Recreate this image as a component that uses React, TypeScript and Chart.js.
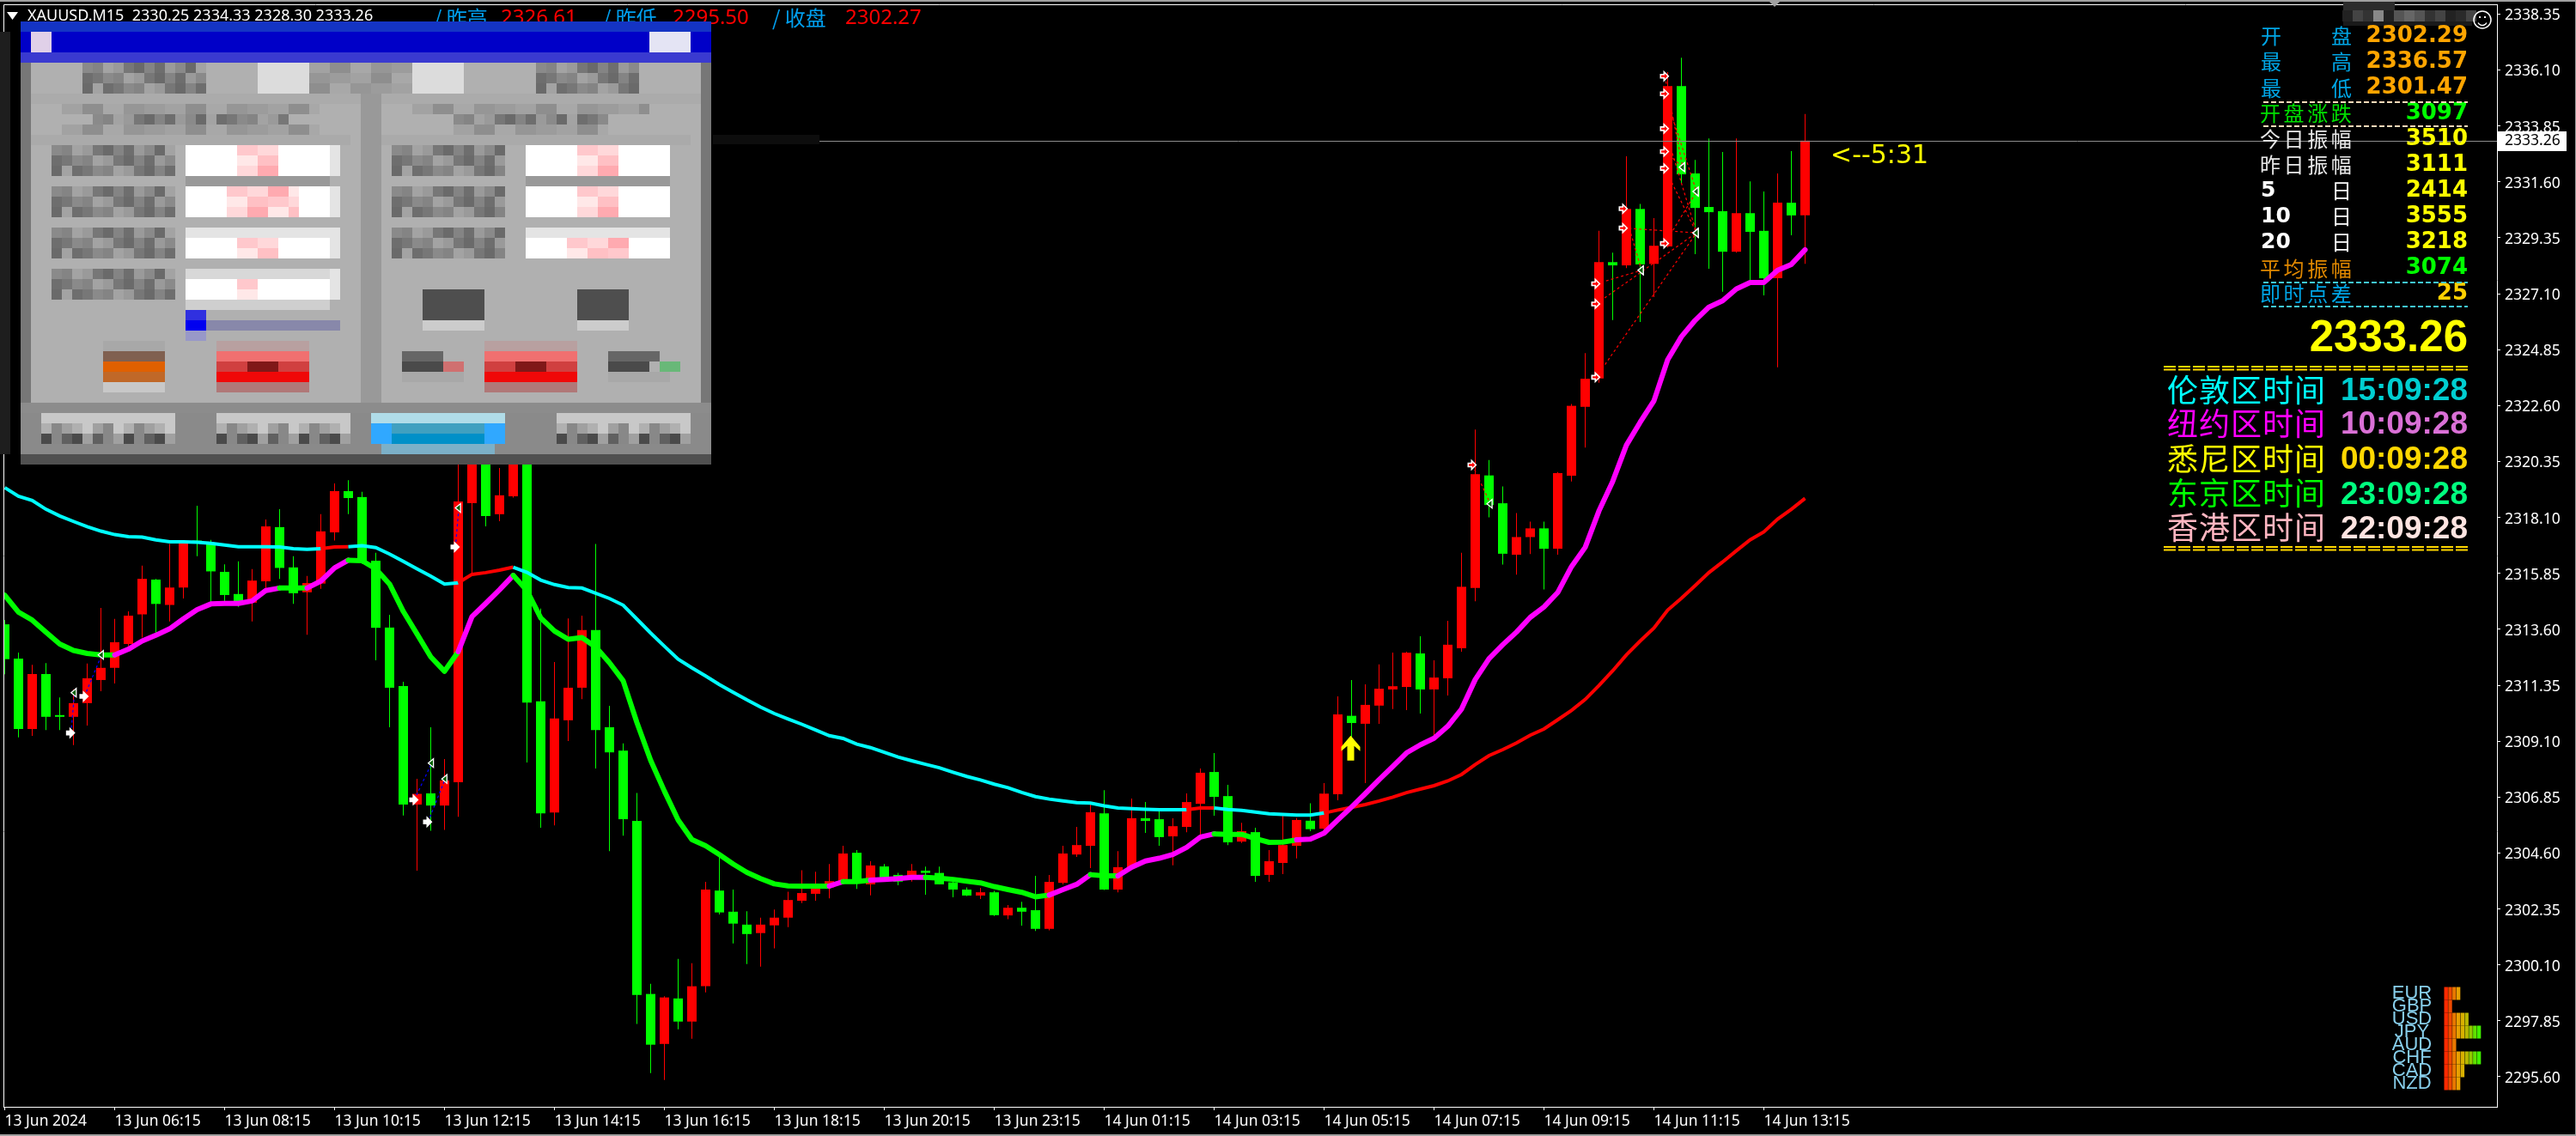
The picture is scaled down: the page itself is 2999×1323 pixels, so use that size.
import React, { useEffect, useRef } from "react";
import { Chart, registerables } from "chart.js";

Chart.register(...registerables);

const opens = [2313.80,2312.42,2309.59,2311.80,2310.11,2310.08,2310.63,2311.56,2312.05,2313.01,
2314.20,2315.60,2314.58,2315.28,2317.17,2317.03,2315.91,2315.02,2314.67,2315.53,
2317.71,2316.09,2315.09,2315.44,2317.50,2319.16,2318.92,2316.36,2313.67,2311.32,
2306.55,2307.00,2306.51,2307.45,2318.67,2322.50,2318.23,2318.95,2321.20,2310.70,
2306.23,2309.94,2311.25,2313.57,2309.66,2308.72,2305.89,2298.93,2296.92,2298.75,
2297.82,2299.24,2303.09,2302.24,2301.72,2301.38,2301.69,2302.00,2302.68,2302.96,
2303.22,2303.45,2304.61,2303.34,2304.06,2303.72,2303.68,2303.89,2303.80,2303.42,
2303.13,2302.89,2303.02,2302.09,2302.40,2302.30,2301.55,2303.40,2304.54,2304.89,
2306.20,2303.13,2304.03,2306.00,2305.96,2305.27,2305.65,2306.58,2307.86,2306.89,
2305.06,2305.44,2303.72,2304.20,2304.89,2305.90,2305.58,2306.96,2310.12,2309.80,
2310.53,2311.18,2311.28,2312.63,2311.18,2311.63,2312.84,2315.26,2319.79,2318.67,
2316.60,2317.31,2317.66,2316.84,2319.78,2322.55,2323.69,2328.37,2328.24,2330.51,
2328.30,2329.00,2335.45,2331.94,2330.59,2330.42,2328.79,2330.34,2329.63,2327.72,
2330.76,2330.25];
const highs = [2313.97,2312.66,2312.17,2312.24,2310.86,2311.18,2312.22,2314.46,2314.02,2314.32,
2316.16,2315.63,2317.03,2317.15,2318.57,2317.20,2316.21,2316.33,2316.02,2318.02,
2318.43,2316.54,2315.75,2318.23,2319.47,2319.60,2319.13,2316.68,2314.18,2311.49,
2307.59,2309.66,2308.38,2320.23,2323.40,2323.60,2320.09,2321.80,2321.80,2314.43,
2312.28,2314.04,2314.15,2317.03,2310.52,2309.01,2307.02,2299.34,2298.84,2300.34,
2300.17,2303.44,2304.49,2303.13,2302.26,2302.00,2302.33,2303.04,2303.91,2303.85,
2304.16,2304.89,2304.72,2304.27,2304.16,2303.80,2304.16,2304.05,2304.05,2303.59,
2303.22,2303.20,2303.08,2302.51,2302.64,2303.68,2303.72,2304.89,2305.65,2306.56,
2307.13,2304.68,2306.79,2306.65,2306.31,2306.00,2307.00,2308.00,2308.62,2307.34,
2305.82,2305.62,2304.72,2306.10,2306.01,2306.60,2307.41,2310.90,2311.56,2311.39,
2312.19,2312.66,2312.70,2313.32,2312.35,2313.94,2316.68,2321.64,2320.41,2319.35,
2318.28,2317.93,2317.93,2319.93,2322.66,2324.71,2329.63,2328.75,2332.63,2330.71,
2330.14,2336.01,2336.59,2332.48,2333.35,2332.80,2333.35,2331.62,2331.21,2331.94,
2332.84,2334.33];
const lows = [2311.79,2309.25,2309.31,2309.55,2309.55,2308.94,2309.73,2311.11,2311.42,2312.92,
2313.27,2313.45,2313.92,2314.84,2316.54,2314.67,2314.58,2314.50,2313.92,2315.19,
2315.63,2314.62,2313.38,2315.23,2317.17,2318.23,2316.24,2312.35,2309.66,2306.11,
2303.89,2305.50,2305.53,2306.06,2315.86,2317.74,2317.95,2318.90,2308.24,2305.62,
2305.71,2309.11,2310.79,2308.00,2304.68,2305.30,2297.72,2295.75,2295.47,2297.51,
2297.13,2298.99,2302.13,2300.96,2300.13,2300.03,2300.76,2301.62,2302.59,2302.68,
2302.78,2303.34,2303.16,2302.90,2303.54,2303.30,2303.45,2302.92,2303.34,2302.82,
2302.87,2302.75,2302.07,2301.94,2301.68,2301.46,2301.49,2303.34,2304.44,2303.99,
2303.11,2303.02,2303.96,2305.41,2304.89,2304.11,2305.44,2305.24,2306.10,2304.92,
2305.00,2303.44,2303.44,2303.75,2304.38,2305.48,2305.53,2306.72,2309.27,2307.41,
2309.80,2310.39,2310.35,2310.21,2309.35,2310.94,2312.70,2314.73,2318.10,2316.20,
2315.80,2316.63,2315.20,2316.60,2319.55,2320.91,2323.52,2326.04,2328.13,2325.96,
2326.96,2328.96,2331.52,2328.69,2328.10,2327.18,2328.75,2327.62,2327.03,2324.14,
2329.45,2328.30];
const closes = [2312.40,2309.59,2311.80,2310.08,2310.08,2310.63,2311.63,2312.05,2313.08,2314.15,
2315.63,2314.62,2315.28,2317.12,2317.06,2315.93,2314.98,2314.67,2315.56,2317.74,
2316.07,2315.05,2315.46,2317.54,2319.16,2318.88,2316.33,2313.66,2311.25,2306.55,
2306.98,2306.51,2307.52,2318.74,2322.30,2318.16,2318.99,2321.00,2310.65,2306.20,
2310.01,2311.25,2313.57,2309.55,2308.65,2305.96,2298.89,2296.89,2298.79,2297.82,
2299.24,2303.13,2302.21,2301.76,2301.34,2301.72,2302.00,2302.71,2302.99,2303.16,
2303.47,2304.58,2303.45,2304.10,2303.62,2303.45,2303.89,2303.80,2303.34,2303.13,
2302.89,2303.02,2302.10,2302.40,2302.24,2301.55,2303.44,2304.58,2304.92,2306.24,
2303.13,2304.03,2306.00,2305.89,2305.24,2305.68,2306.65,2307.83,2306.86,2305.03,
2305.48,2303.68,2304.27,2304.92,2305.93,2305.56,2306.99,2310.18,2309.83,2310.56,
2311.21,2311.31,2312.66,2311.18,2311.66,2312.98,2315.31,2319.84,2318.60,2316.64,
2317.31,2317.66,2316.84,2319.88,2322.59,2323.68,2328.37,2328.24,2330.51,2328.28,
2329.03,2335.45,2331.90,2330.55,2330.38,2328.79,2330.34,2329.59,2327.72,2330.76,
2330.25,2333.26];

const slowMA = [2319.30,2318.95,2318.78,2318.43,2318.16,2317.94,2317.73,2317.55,2317.41,2317.33,
2317.31,2317.20,2317.12,2317.12,2317.10,2317.06,2316.99,2316.92,2316.92,2316.92,
2316.91,2316.84,2316.82,2316.84,2316.91,2316.92,2316.96,2316.89,2316.63,2316.33,
2316.03,2315.74,2315.42,2315.47,2315.81,2315.88,2315.98,2316.10,2315.89,2315.58,
2315.40,2315.28,2315.26,2315.05,2314.84,2314.57,2314.01,2313.45,2312.92,2312.40,
2312.05,2311.72,2311.38,2311.07,2310.76,2310.47,2310.21,2309.99,2309.78,2309.55,
2309.32,2309.21,2308.98,2308.84,2308.65,2308.46,2308.31,2308.17,2308.03,2307.85,
2307.68,2307.54,2307.37,2307.23,2307.04,2306.87,2306.77,2306.70,2306.63,2306.61,
2306.50,2306.41,2306.39,2306.36,2306.34,2306.34,2306.34,2306.41,2306.41,2306.35,
2306.32,2306.25,2306.18,2306.15,2306.13,2306.13,2306.21,2306.33,2306.44,2306.55,
2306.69,2306.85,2307.03,2307.17,2307.31,2307.50,2307.76,2308.16,2308.52,2308.76,
2309.03,2309.34,2309.59,2309.96,2310.34,2310.78,2311.34,2311.93,2312.57,2313.13,
2313.65,2314.37,2314.85,2315.36,2315.88,2316.31,2316.76,2317.20,2317.52,2318.03,
2318.43,2318.87];
const fastMA = [2314.97,2314.29,2313.97,2313.48,2313.01,2312.75,2312.63,2312.57,2312.57,2312.80,
2313.13,2313.36,2313.62,2314.02,2314.39,2314.62,2314.64,2314.64,2314.74,2315.16,
2315.26,2315.26,2315.26,2315.54,2316.07,2316.38,2316.36,2316.03,2315.42,2314.32,
2313.41,2312.49,2311.91,2312.70,2314.11,2314.64,2315.19,2315.77,2315.16,2314.06,
2313.53,2313.20,2313.27,2312.89,2312.26,2311.53,2309.85,2308.33,2307.09,2305.93,
2305.14,2304.89,2304.54,2304.16,2303.82,2303.57,2303.36,2303.28,2303.27,2303.27,
2303.27,2303.45,2303.45,2303.51,2303.54,2303.57,2303.62,2303.62,2303.59,2303.54,
2303.47,2303.40,2303.25,2303.13,2303.02,2302.84,2302.91,2303.13,2303.34,2303.73,
2303.68,2303.68,2304.03,2304.28,2304.39,2304.54,2304.83,2305.24,2305.37,2305.35,
2305.35,2305.18,2305.03,2305.04,2305.13,2305.16,2305.40,2305.93,2306.45,2306.99,
2307.55,2308.08,2308.63,2308.95,2309.22,2309.70,2310.39,2311.58,2312.42,2312.98,
2313.49,2314.08,2314.50,2315.08,2316.12,2316.90,2318.36,2319.55,2321.01,2321.93,
2322.79,2324.44,2325.37,2326.03,2326.56,2326.82,2327.29,2327.55,2327.55,2328.04,
2328.28,2328.87];

const slowRedRuns = [[23, 25], [33, 37], [86, 88], [96, 131]];
const fastMagentaRuns = [[8, 20], [22, 25], [33, 37], [60, 61], [63, 67], [76, 79], [81, 88], [94, 131]];

const priceTicks = [2295.60,2297.85,2300.10,2302.35,2304.60,2306.85,2309.10,2311.35,2313.60,2315.85,
2318.10,2320.35,2322.60,2324.85,2327.10,2329.35,2331.60,2333.85,2336.10,2338.35];
const timeLabels = ["13 Jun 2024","13 Jun 06:15","13 Jun 08:15","13 Jun 10:15","13 Jun 12:15","13 Jun 14:15","13 Jun 16:15","13 Jun 18:15","13 Jun 20:15","13 Jun 23:15","14 Jun 01:15","14 Jun 03:15","14 Jun 05:15","14 Jun 07:15","14 Jun 09:15","14 Jun 11:15","14 Jun 13:15"];

// trades: [entry bar, entry price, exit bar, exit price]
const blueTrades = [[4.82,2309.43,5.08,2311.05],[5.8,2310.9,7.05,2312.57],[29.8,2306.74,31.07,2308.22],[30.8,2305.85,32.05,2307.58],[32.8,2316.91,33.04,2318.48]];
const redTrades = [[106.8,2320.21,108.1,2318.65],[115.8,2327.5,119.1,2328.04],[115.8,2326.69,123.1,2329.55],[115.8,2323.74,123.1,2329.55],[117.8,2330.52,119.1,2328.04],[117.8,2329.74,123.1,2329.55],[120.8,2335.85,122.1,2332.19],[120.8,2335.14,123.1,2331.21],[120.8,2333.74,123.1,2329.55],[120.8,2332.82,122.1,2332.19],[120.8,2332.14,123.1,2329.55],[120.8,2329.12,123.1,2331.21]];

const signalBar = 98;
const signalPrice = 2308.8;
const lastPrice = 2333.26;

const RED = "#FF0000";
const GREEN = "#00FF00";

const statRows = [
  ["开", "盘", "2302.29", "#00A5E5", "#FFA500"],
  ["最", "高", "2336.57", "#00A5E5", "#FFA500"],
  ["最", "低", "2301.47", "#00A5E5", "#FFA500"],
  ["开盘涨跌", "", "3097", "#00E000", "#00FF00"],
  ["今日振幅", "", "3510", "#E8E8E8", "#FFFF00"],
  ["昨日振幅", "", "3111", "#E8E8E8", "#FFFF00"],
  ["5", "日", "2414", "#FFFFFF", "#FFFF00"],
  ["10", "日", "3555", "#FFFFFF", "#FFFF00"],
  ["20", "日", "3218", "#FFFFFF", "#FFFF00"],
  ["平均振幅", "", "3074", "#E08800", "#00FF00"],
  ["即时点差", "", "25", "#00A5E5", "#FFD000"],
];
const zoneRows = [
  ["伦敦区时间", "15:09:28", "#00FFFF", "#00CED1"],
  ["纽约区时间", "10:09:28", "#FF00FF", "#DA70D6"],
  ["悉尼区时间", "00:09:28", "#FFFF00", "#FFD700"],
  ["东京区时间", "23:09:28", "#00FF00", "#00FF7F"],
  ["香港区时间", "22:09:28", "#FFB6C1", "#FFE4E1"],
];
const currencies = ["EUR", "GBP", "USD", "JPY", "AUD", "CHF", "CAD", "NZD"];
const strengths = [4, 2, 6, 9, 3, 9, 5, 4];
const strengthColors = ["#FF2A00", "#EE4A00", "#E87800", "#E8A000", "#D8B000", "#B8B800", "#90C800", "#60E000", "#40F000"];

const inRuns = (runs: number[][], i: number) => runs.some(([a, b]) => i >= a && i < b);
const CJK = '"Noto Sans CJK SC"';
const UI = '"Noto Sans"';

function drawPanel(ctx: CanvasRenderingContext2D) {
  const ox = 24, oy = 25, s = 12;
  const g = (c: number, r: number, w: number, h: number, col: string) => {
    ctx.fillStyle = col;
    ctx.fillRect(ox + c * s, oy + r * s, w * s, h * s);
  };
  const blob = (c: number, r: number, w: number, h: number, tones: string[]) => {
    for (let y = 0; y < h; y++)
      for (let x = 0; x < w; x++) g(c + x, r + y, 1, 1, tones[(x * 5 + y * 3 + (x >> 1)) % tones.length]);
  };
  const grayA = ["#8A8A8A", "#777777", "#9A9A9A", "#6E6E6E", "#A3A3A3", "#848484", "#6A6A6A"];
  const grayB = ["#A2A2A2", "#8E8E8E", "#A8A8A8", "#969696", "#9C9C9C"];
  const pink = ["#FFC8CC", "#FFD8DA", "#FFAAB0", "#FFE8E8", "#FFC0C4"];

  g(-2, 1, 1, 41, "#1E1E1E");
  ctx.fillStyle = "#0D0D0D";
  ctx.fillRect(830, 157, 124, 11);

  g(0, 0, 67, 1, "#1434C4");
  g(0, 1, 67, 2, "#0000C8");
  g(0, 3, 67, 1, "#3A3AD0");
  g(1, 1, 2, 2, "#E0D0E8");
  g(61, 1, 4, 2, "#E4E4F4");
  g(0, 4, 67, 38, "#B0B0B0");
  g(0, 4, 1, 38, "#777777");
  g(66, 4, 1, 38, "#777777");
  g(1, 7, 65, 1, "#ABABAB");
  g(33, 7, 2, 30, "#999999");
  g(1, 11, 31, 1, "#AAAAAA");
  g(35, 11, 30, 1, "#AAAAAA");

  blob(6, 4, 12, 3, grayA);
  g(23, 4, 5, 3, "#DCDCDC");
  blob(28, 4, 10, 3, grayB);
  g(38, 4, 5, 3, "#DCDCDC");
  blob(50, 4, 10, 3, grayA);
  blob(4, 8, 25, 1, grayB);
  blob(7, 9, 19, 1, grayA);
  blob(4, 10, 25, 1, grayB);
  blob(38, 8, 23, 1, grayB);
  blob(42, 9, 15, 1, grayA);
  blob(42, 10, 15, 1, grayB);

  const rowsY = [12, 16, 20, 24];
  rowsY.forEach((r, k) => {
    blob(3, r, 12, 3, grayA);
    g(16, r, 14, 3, "#FFFFFF");
    g(30, r, 1, 3, "#E4E4E4");
    if (k >= 2) g(16, r, 14, 1, k === 2 ? "#E4E4E4" : "#D8D8D8");
    blob(20 + (k === 1 ? 0 : 1), k >= 2 ? r + 1 : r, k === 1 ? 7 : k === 3 ? 2 : 4, k >= 2 ? 2 : 3, pink);
    if (k < 3) {
      blob(36, r, 11, 3, grayA);
      g(49, r, 14, 3, "#FFFFFF");
      if (k === 2) g(49, r, 14, 1, "#E4E4E4");
      blob(k === 2 ? 53 : 54, k === 2 ? r + 1 : r, k === 2 ? 6 : 4, k === 2 ? 2 : 3, pink);
    }
  });
  g(16, 15, 14, 1, "#999999");
  g(49, 15, 14, 1, "#999999");
  g(16, 27, 14, 1, "#CFCFCF");

  g(39, 26, 6, 3, "#4E4E4E");
  g(54, 26, 5, 3, "#4E4E4E");
  g(39, 29, 6, 1, "#CCCCCC");
  g(54, 29, 5, 1, "#CCCCCC");

  g(16, 28, 2, 1, "#3030E0");
  g(16, 29, 2, 1, "#0000F0");
  g(16, 30, 2, 1, "#9898C8");
  g(18, 29, 13, 1, "#8888AA");

  g(8, 31, 6, 1, "#A8A8A8");
  g(8, 32, 6, 1, "#806050");
  g(8, 33, 6, 1, "#E06000");
  g(8, 34, 6, 1, "#C06828");
  g(8, 35, 6, 1, "#C8C8C8");

  for (const c of [19, 45]) {
    g(c, 31, 9, 1, "#B8A0A0");
    g(c, 32, 9, 1, "#F07070");
    g(c, 33, 9, 1, "#D04040");
    g(c + 3, 33, 3, 1, "#801818");
    g(c, 34, 9, 1, "#F00808");
    g(c, 35, 9, 1, "#B07878");
  }
  g(37, 32, 4, 1, "#666666");
  g(37, 33, 4, 1, "#4A4A4A");
  g(41, 33, 2, 1, "#D07070");
  g(37, 34, 6, 1, "#A8A8A8");
  g(57, 32, 5, 1, "#666666");
  g(57, 33, 4, 1, "#4A4A4A");
  g(62, 33, 2, 1, "#68B878");
  g(57, 34, 6, 1, "#A8A8A8");

  g(0, 37, 67, 1, "#8C8C8C");
  g(0, 38, 67, 4, "#8A8A8A");
  for (const c of [2, 19, 52]) {
    g(c, 38, 13, 1, "#C8C8C8");
    blob(c, 39, 13, 1, ["#B0B0B0", "#888888", "#C8C8C8", "#A0A0A0"]);
    blob(c, 40, 13, 1, ["#4A4A4A", "#888888", "#A0A0A0", "#606060"]);
  }
  g(34, 38, 13, 1, "#B0DCE8");
  g(34, 39, 13, 1, "#40A0C0");
  g(34, 40, 13, 1, "#0090C8");
  g(35, 41, 11, 1, "#7CB0C8");
  g(34, 39, 2, 2, "#30A8FF");
  g(45, 39, 2, 2, "#30A8FF");
  g(0, 42, 67, 1, "#505050");
}

function drawArrow(ctx: CanvasRenderingContext2D, x: number, y: number, fill: string) {
  ctx.beginPath();
  ctx.moveTo(x - 5, y - 2);
  ctx.lineTo(x - 1, y - 2);
  ctx.lineTo(x - 1, y - 5);
  ctx.lineTo(x + 4, y);
  ctx.lineTo(x - 1, y + 5);
  ctx.lineTo(x - 1, y + 2);
  ctx.lineTo(x - 5, y + 2);
  ctx.closePath();
  ctx.fillStyle = fill;
  ctx.strokeStyle = "#FFFFFF";
  ctx.lineWidth = 1.6;
  ctx.fill();
  ctx.stroke();
}
function drawTri(ctx: CanvasRenderingContext2D, x: number, y: number) {
  ctx.beginPath();
  ctx.moveTo(x - 4, y);
  ctx.lineTo(x + 2, y - 5);
  ctx.lineTo(x + 2, y + 5);
  ctx.closePath();
  ctx.fillStyle = "#006000";
  ctx.strokeStyle = "#FFFFFF";
  ctx.lineWidth = 1.3;
  ctx.fill();
  ctx.stroke();
}

const marksPlugin = {
  id: "marks",
  afterDatasetsDraw(chart: any) {
    const ctx: CanvasRenderingContext2D = chart.ctx;
    const { x, y } = chart.scales;
    ctx.save();
    for (const [a, p, b, q] of blueTrades) {
      drawArrow(ctx, x.getPixelForValue(a), y.getPixelForValue(p), "#FFFFFF");
      drawTri(ctx, x.getPixelForValue(b), y.getPixelForValue(q));
    }
    for (const [a, p, b, q] of redTrades) {
      drawArrow(ctx, x.getPixelForValue(a), y.getPixelForValue(p), "#FF0000");
      drawTri(ctx, x.getPixelForValue(b), y.getPixelForValue(q));
    }
    // signal arrow
    const sx = x.getPixelForValue(signalBar) - 1;
    const sy = y.getPixelForValue(signalPrice);
    ctx.fillStyle = "#FFFF00";
    ctx.beginPath();
    ctx.moveTo(sx, sy - 15);
    ctx.lineTo(sx + 11, sy - 2);
    ctx.lineTo(sx + 11, sy + 3);
    ctx.lineTo(sx + 4, sy - 3);
    ctx.lineTo(sx + 4, sy + 14);
    ctx.lineTo(sx - 4, sy + 14);
    ctx.lineTo(sx - 4, sy - 3);
    ctx.lineTo(sx - 11, sy + 3);
    ctx.lineTo(sx - 11, sy - 2);
    ctx.closePath();
    ctx.fill();
    // current price line
    const ly = Math.round(y.getPixelForValue(lastPrice)) + 0.5;
    ctx.strokeStyle = "#8C8C8C";
    ctx.lineWidth = 1;
    ctx.beginPath();
    ctx.moveTo(953, ly);
    ctx.lineTo(x.right, ly);
    ctx.stroke();
    ctx.restore();
  },
  afterDraw(chart: any) {
    const ctx: CanvasRenderingContext2D = chart.ctx;
    const { y } = chart.scales;
    const text = (t: string, px: number, py: number, font: string, col: string, align: CanvasTextAlign = "left", spacing = "0px") => {
      ctx.font = font;
      ctx.fillStyle = col;
      ctx.textAlign = align;
      ctx.textBaseline = "middle";
      (ctx as any).letterSpacing = spacing;
      ctx.fillText(t, px, py);
      (ctx as any).letterSpacing = "0px";
    };
    ctx.save();
    // frame
    ctx.fillStyle = "#A0A0A0";
    ctx.fillRect(0, 0, 2999, 2);
    ctx.fillRect(2998, 0, 1, 1323);
    ctx.fillRect(0, 1321, 2999, 2);
    ctx.strokeStyle = "#FFFFFF";
    ctx.lineWidth = 1;
    ctx.beginPath();
    ctx.moveTo(4.5, 1289.5);
    ctx.lineTo(4.5, 5.5);
    ctx.lineTo(2907.5, 5.5);
    ctx.stroke();

    // header
    ctx.fillStyle = "#FFFFFF";
    ctx.beginPath();
    ctx.moveTo(8, 14);
    ctx.lineTo(21, 14);
    ctx.lineTo(14.5, 23);
    ctx.closePath();
    ctx.fill();
    text("XAUUSD.M15  2330.25 2334.33 2328.30 2333.26", 32, 19, `18px ${UI}`, "#FFFFFF");
    const head = [["/ 昨高", 505, "2326.61", 583], ["/ 昨低", 702, "2295.50", 783], ["/ 收盘", 899, "2302.27", 984]];
    for (const [lab, lx, val, vx] of head) {
      text(lab as string, lx as number, 21, `24px ${CJK}`, "#00A0F0");
      text(val as string, vx as number, 21, `24px ${UI}`, "#FF0000");
    }

    // countdown
    text("<--5:31", 2131, 182, `30px "DejaVu Sans"`, "#FFFF00");

    // blurred strip + smiley
    const tones = ["#222222", "#444444", "#333333", "#888888", "#222222", "#555555", "#666666", "#555555", "#333333", "#444444", "#222222", "#2A2A2A", "#444444"];
    ctx.fillStyle = "#2C2C2C";
    ctx.fillRect(2728, 2, 60, 10);
    ctx.fillStyle = "#1A1A1A";
    ctx.fillRect(2728, 12, 150, 18);
    tones.forEach((c, i) => {
      ctx.fillStyle = c;
      ctx.fillRect(2727 + i * 12, 12, 12, 13);
    });
    ctx.strokeStyle = "#FFFFFF";
    ctx.lineWidth = 1.5;
    ctx.beginPath();
    ctx.arc(2890, 23, 10, 0, Math.PI * 2);
    ctx.stroke();
    ctx.beginPath();
    ctx.arc(2890, 24, 5.5, 0.15 * Math.PI, 0.85 * Math.PI);
    ctx.stroke();
    ctx.fillStyle = "#FFFFFF";
    ctx.fillRect(2886, 19, 2, 2);
    ctx.fillRect(2892, 19, 2, 2);
    ctx.fillStyle = "#A0A0A0";
    ctx.beginPath();
    ctx.moveTo(2060, 2);
    ctx.lineTo(2072, 2);
    ctx.lineTo(2066, 8);
    ctx.closePath();
    ctx.fill();

    // stat table
    const rowY = [42, 72, 102.5, 132, 162, 192, 222, 252, 282, 312.5, 342];
    statRows.forEach((r, i) => {
      const [a, b, v, c1, c2] = r;
      const yy = rowY[i];
      if (b === "") {
        text(a, 2631, yy, `24px ${CJK}`, c1, "left", "3.6px");
      } else {
        const numeric = /\d/.test(a);
        text(a, 2632, yy, numeric ? `bold 25px "DejaVu Sans"` : `24px ${CJK}`, c1);
        text(b, 2714, yy, `24px ${CJK}`, c1);
      }
      text(v, 2873, yy, `bold 26px "DejaVu Sans"`, c2, "right");
    });
    const dashed = (x0: number, x1: number, yy: number, col: string, w: number, seg: number[]) => {
      ctx.strokeStyle = col;
      ctx.lineWidth = w;
      ctx.setLineDash(seg);
      ctx.beginPath();
      ctx.moveTo(x0, yy);
      ctx.lineTo(x1, yy);
      ctx.stroke();
      ctx.setLineDash([]);
    };
    dashed(2635, 2873, 119, "#FFDAB9", 2, [6, 3]);
    dashed(2635, 2873, 147, "#FFDAB9", 2, [6, 3]);
    dashed(2635, 2873, 329, "#40C8D8", 2, [6, 3]);
    dashed(2635, 2873, 357, "#40C8D8", 2, [6, 3]);

    text("2333.26", 2873, 395, `bold 51px "Liberation Sans"`, "#FFFF00", "right");

    for (const yy of [427, 430.5, 637, 640.5]) dashed(2519, 2873, yy, "#FFD700", 2, [14, 3]);
    const zoneY = [454, 493, 534, 574.5, 614.5];
    zoneRows.forEach((r, i) => {
      text(r[0], 2523, zoneY[i], `36px ${CJK}`, r[2], "left", "1px");
      text(r[1], 2873, zoneY[i] + 2, `bold 37px "Liberation Sans"`, r[3], "right");
    });

    // currency strength
    currencies.forEach((c, i) => {
      const yy = 1157 + i * 15;
      text(c, 2808, yy, `22px "Liberation Sans"`, "#87CEEB", "center");
      for (let k = 0; k < strengths[i]; k++) {
        ctx.fillStyle = strengthColors[k];
        ctx.fillRect(2845.5 + k * 4.8, yy - 7.5, 4.4, 15);
      }
    });

    // price tag
    const py = y.getPixelForValue(lastPrice);
    ctx.fillStyle = "#FFFFFF";
    ctx.fillRect(2908, Math.round(py) - 11, 80, 23);
    text(lastPrice.toFixed(2), 2916, py + 0.5, `17.5px ${UI}`, "#000000");

    drawPanel(ctx);
    ctx.restore();
  },
};

const noPad = (s: any) => {
  s.paddingTop = 0;
  s.paddingBottom = 0;
  s.paddingLeft = 0;
  s.paddingRight = 0;
};

export default function App() {
  const ref = useRef<HTMLCanvasElement>(null);
  useEffect(() => {
    const bars = opens.map((_, i) => i);
    const colors = bars.map((i) => (closes[i] >= opens[i] ? RED : GREEN));
    const tradeLine = (t: number[], col: string) => ({
      type: "line",
      data: [{ x: t[0], y: t[1] }, { x: t[2], y: t[3] }],
      borderColor: col,
      borderWidth: 1.2,
      borderDash: [3, 3],
      pointRadius: 0,
      order: 1,
    });
    const chart = new Chart(ref.current as HTMLCanvasElement, {
      type: "bar",
      data: {
        datasets: [
          {
            type: "line",
            data: bars.map((i) => ({ x: i, y: fastMA[i] })),
            borderWidth: 6,
            pointRadius: 0,
            tension: 0,
            borderCapStyle: "round",
            borderJoinStyle: "round",
            borderColor: GREEN,
            segment: { borderColor: (c: any) => (inRuns(fastMagentaRuns, c.p0DataIndex) ? "#FF00FF" : GREEN) },
            order: 0,
          },
          {
            type: "line",
            data: bars.map((i) => ({ x: i, y: slowMA[i] })),
            borderWidth: 4,
            pointRadius: 0,
            tension: 0,
            borderColor: "#00FFFF",
            segment: { borderColor: (c: any) => (inRuns(slowRedRuns, c.p0DataIndex) ? RED : "#00FFFF") },
            order: 0.5,
          },
          ...blueTrades.map((t) => tradeLine(t, "#0000FF")),
          ...redTrades.map((t) => tradeLine(t, RED)),
          {
            data: bars.map((i) => ({ x: i, y: [opens[i], closes[i]] })),
            backgroundColor: colors,
            barThickness: 11,
            minBarLength: 2,
            grouped: false,
            inflateAmount: 0,
            order: 2,
          },
          {
            data: bars.map((i) => ({ x: i, y: [lows[i], highs[i]] })),
            backgroundColor: colors,
            barThickness: 1,
            grouped: false,
            inflateAmount: 0,
            order: 3,
          },
        ] as any,
      },
      options: {
        responsive: false,
        animation: false,
        devicePixelRatio: 1,
        layout: { autoPadding: false, padding: { left: 4, top: 5, right: 0, bottom: 0 } },
        plugins: { legend: { display: false }, tooltip: { enabled: false }, title: { display: false } },
        scales: {
          x: {
            type: "linear",
            offset: false,
            min: -0.09375,
            max: 181.34375,
            grid: { offset: false, drawOnChartArea: false, drawTicks: true, tickLength: 4, color: "#FFFFFF" },
            border: { display: true, color: "#FFFFFF" },
            afterBuildTicks: (s: any) => { s.ticks = timeLabels.map((_, k) => ({ value: k * 8 })); },
            afterFit: (s: any) => { s.height = 34; noPad(s); },
            ticks: {
              autoSkip: false,
              maxRotation: 0,
              align: "start",
              padding: 3,
              color: "#FFFFFF",
              font: { family: "Noto Sans", size: 17.5 },
              callback: (v: any) => timeLabels[Math.round(Number(v) / 8)],
            },
          },
          y: {
            type: "linear",
            position: "right",
            min: 2294.391,
            max: 2338.743,
            grid: { drawOnChartArea: false, drawTicks: true, tickLength: 4, color: "#FFFFFF" },
            border: { display: true, color: "#FFFFFF" },
            afterBuildTicks: (s: any) => { s.ticks = priceTicks.map((value) => ({ value })); },
            afterFit: (s: any) => { s.width = 92; noPad(s); },
            ticks: {
              autoSkip: false,
              padding: 5,
              labelOffset: 2,
              color: "#FFFFFF",
              font: { family: "Noto Sans", size: 17.5 },
              callback: (v: any) => Number(v).toFixed(2),
            },
          },
        },
      } as any,
      plugins: [marksPlugin as any],
    });
    return () => chart.destroy();
  }, []);
  return (
    <div style={{ position: "fixed", left: 0, top: 0, width: 2999, height: 1323, background: "#000000", overflow: "hidden" }}>
      <canvas ref={ref} width={2999} height={1323} style={{ display: "block", width: 2999, height: 1323 }} />
    </div>
  );
}
